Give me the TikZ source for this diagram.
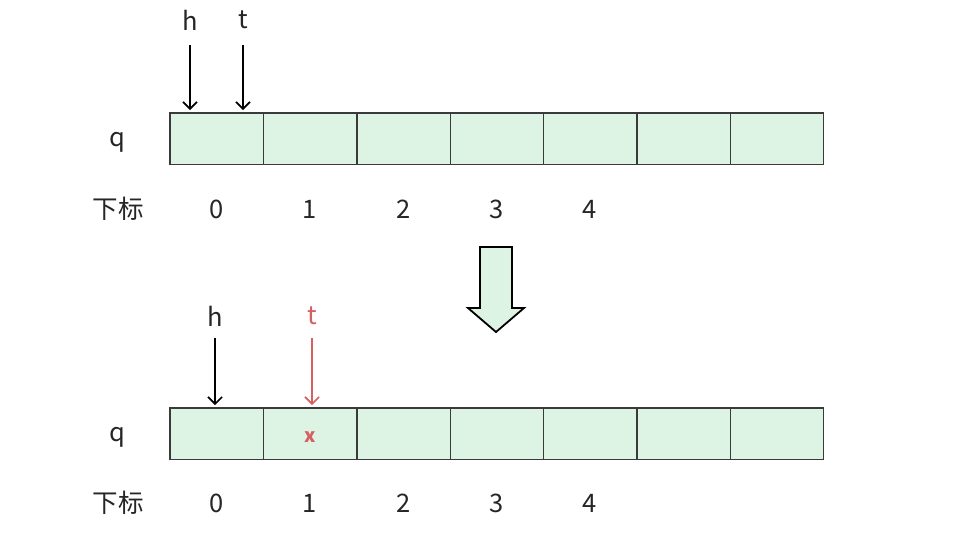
\documentclass[tikz,border=0pt]{standalone}
\usepackage{fontspec}
\setmainfont{Noto Sans CJK SC}
\usetikzlibrary{arrows.meta}
\definecolor{cellfill}{HTML}{DDF3E4}
\definecolor{cellline}{HTML}{3A3A3A}
\definecolor{redt}{HTML}{D65F5F}
\tikzset{
  cell/.style={fill=cellfill, minimum width=93.3pt, minimum height=51pt, inner sep=0pt, anchor=north west},
  cellline/.style={draw=cellline, line width=1.3pt},
  lbl/.style={font=\fontsize{25.5}{28}\selectfont, inner sep=0pt, text=black!85},
  ptr/.style={-{Straight Barb[length=7pt,width=14pt]}, line width=1.6pt},
}
\begin{document}
\begin{tikzpicture}[x=1pt,y=-1pt]
\useasboundingbox (0,0) rectangle (974,550);
% rows of cells
\foreach \i in {0,...,6} {
  \node[cell] (a\i) at ({170+\i*93.3},113) {};
  \node[cell] (b\i) at ({170+\i*93.3},408) {};
}
\draw[cellline] (a0.north west) rectangle (a6.south east);
\draw[cellline] (b0.north west) rectangle (b6.south east);
\foreach \i in {0,...,5} {
  \draw[cellline] (a\i.north east) -- (a\i.south east);
  \draw[cellline] (b\i.north east) -- (b\i.south east);
}
\node[lbl] (q1) at (117,142) {q};
\node[lbl] (s1) at (118,209) {下标};
\foreach \i in {0,...,4} {
  \node[lbl] (ia\i) at ({216.6+\i*93.3},209) {\i};
  \node[lbl] (ib\i) at ({216.6+\i*93.3},503) {\i};
}
\node[lbl] (q2) at (117,437) {q};
\node[lbl] (s2) at (118,503) {下标};
% top pointers
\node[lbl] (h1) at (190,20) {h};
\node[lbl] (t1) at (243,20) {t};
\coordinate (h1e) at (190,110);
\coordinate (t1e) at (243,110);
\draw[ptr] (190,45) -- (h1e);
\draw[ptr] (243,45) -- (t1e);
% bottom pointers
\node[lbl] (h2) at (215,316) {h};
\node[lbl, text=redt] (t2) at (312,316) {t};
\coordinate (h2e) at (215,405);
\coordinate (t2e) at (312,405);
\draw[ptr] (215,338) -- (h2e);
\draw[ptr, draw=redt] (312,338) -- (t2e);
\node[lbl, text=redt, font=\fontsize{19}{22}\selectfont\bfseries] (x) at (309.7,437) {x};
% big arrow
\draw[line width=1.8pt, fill=cellfill, line join=miter]
  (480,247) -- (512,247) -- (512,308) -- (524,308) -- (496,332) -- (468,308) -- (480,308) -- cycle;
\end{tikzpicture}
\end{document}
